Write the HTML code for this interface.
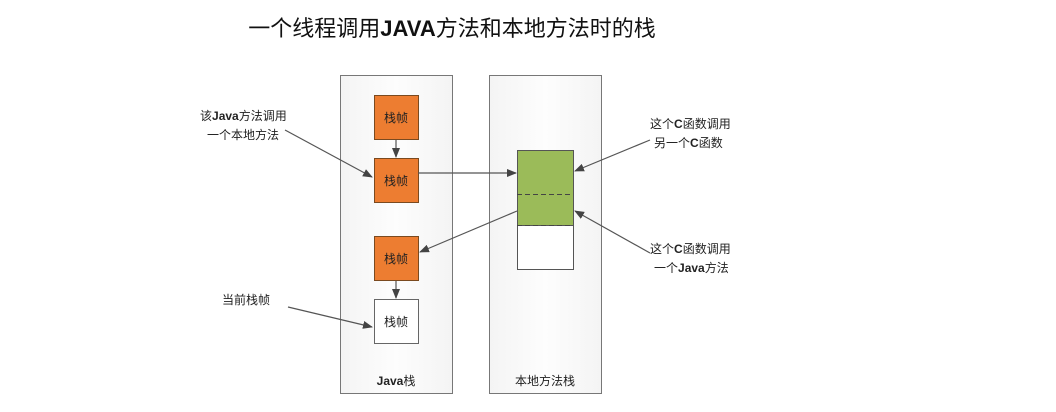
<!DOCTYPE html>
<html><head><meta charset="utf-8"><style>
body{margin:0;background:#fff;width:1056px;height:407px;overflow:hidden;font-family:"Liberation Sans","Noto Sans CJK SC",sans-serif;}
</style></head><body>
<svg width="1056" height="407" xmlns="http://www.w3.org/2000/svg" font-family="Liberation Sans, Noto Sans CJK SC, sans-serif">
<defs>
<linearGradient id="g" x1="0" x2="1"><stop offset="0" stop-color="#f4f4f4"/><stop offset="0.5" stop-color="#fdfdfd"/><stop offset="1" stop-color="#f4f4f4"/></linearGradient>
<marker id="a" markerWidth="10" markerHeight="8" refX="9" refY="4" orient="auto" markerUnits="userSpaceOnUse"><path d="M0,0 L10,4 L0,8 z" fill="#444"/></marker>
</defs>
<text x="452" y="36" font-size="22" text-anchor="middle" fill="#111">一个线程调用<tspan font-weight="bold">JAVA</tspan>方法和本地方法时的栈</text>
<rect x="340.5" y="75.5" width="112" height="318" fill="url(#g)" stroke="#777"/>
<rect x="489.5" y="75.5" width="112" height="318" fill="url(#g)" stroke="#777"/>
<text x="396" y="385" font-size="12" text-anchor="middle" fill="#222"><tspan font-weight="bold">Java</tspan>栈</text>
<text x="545" y="385" font-size="12" text-anchor="middle" fill="#222">本地方法栈</text>
<g stroke="#7a4a20" fill="#ed7d31">
<rect x="374.5" y="95.5" width="44" height="44"/>
<rect x="374.5" y="158.5" width="44" height="44"/>
<rect x="374.5" y="236.5" width="44" height="44"/>
</g>
<rect x="374.5" y="299.5" width="44" height="44" fill="#fff" stroke="#666"/>
<g font-size="12" text-anchor="middle" fill="#222">
<text x="396" y="122">栈帧</text><text x="396" y="185">栈帧</text><text x="396" y="263">栈帧</text><text x="396" y="326">栈帧</text>
</g>
<rect x="517.5" y="150.5" width="56" height="119" fill="#fff" stroke="#555"/>
<rect x="517.5" y="150.5" width="56" height="75" fill="#9bbb59" stroke="#555"/>
<line x1="517" y1="194.5" x2="573" y2="194.5" stroke="#444" stroke-dasharray="5,3"/>
<line x1="517" y1="225.5" x2="573" y2="225.5" stroke="#444" stroke-dasharray="5,3"/>
<g stroke="#555" stroke-width="1.2" fill="none" marker-end="url(#a)">
<line x1="396" y1="140" x2="396" y2="157"/>
<line x1="396" y1="281" x2="396" y2="298"/>
<line x1="418" y1="173" x2="516" y2="173"/>
<line x1="517" y1="211" x2="420" y2="252"/>
<line x1="285" y1="130" x2="372" y2="177"/>
<line x1="650" y1="140" x2="575" y2="171"/>
<line x1="650" y1="253" x2="575" y2="211"/>
<line x1="288" y1="307" x2="372" y2="327"/>
</g>
<g font-size="12" fill="#222">
<text x="200" y="120">该<tspan font-weight="bold">Java</tspan>方法调用</text>
<text x="207" y="139">一个本地方法</text>
<text x="650" y="128">这个<tspan font-weight="bold">C</tspan>函数调用</text>
<text x="654" y="147">另一个<tspan font-weight="bold">C</tspan>函数</text>
<text x="650" y="253">这个<tspan font-weight="bold">C</tspan>函数调用</text>
<text x="654" y="272">一个<tspan font-weight="bold">Java</tspan>方法</text>
<text x="222" y="304">当前栈帧</text>
</g>
</svg>
</body></html>
